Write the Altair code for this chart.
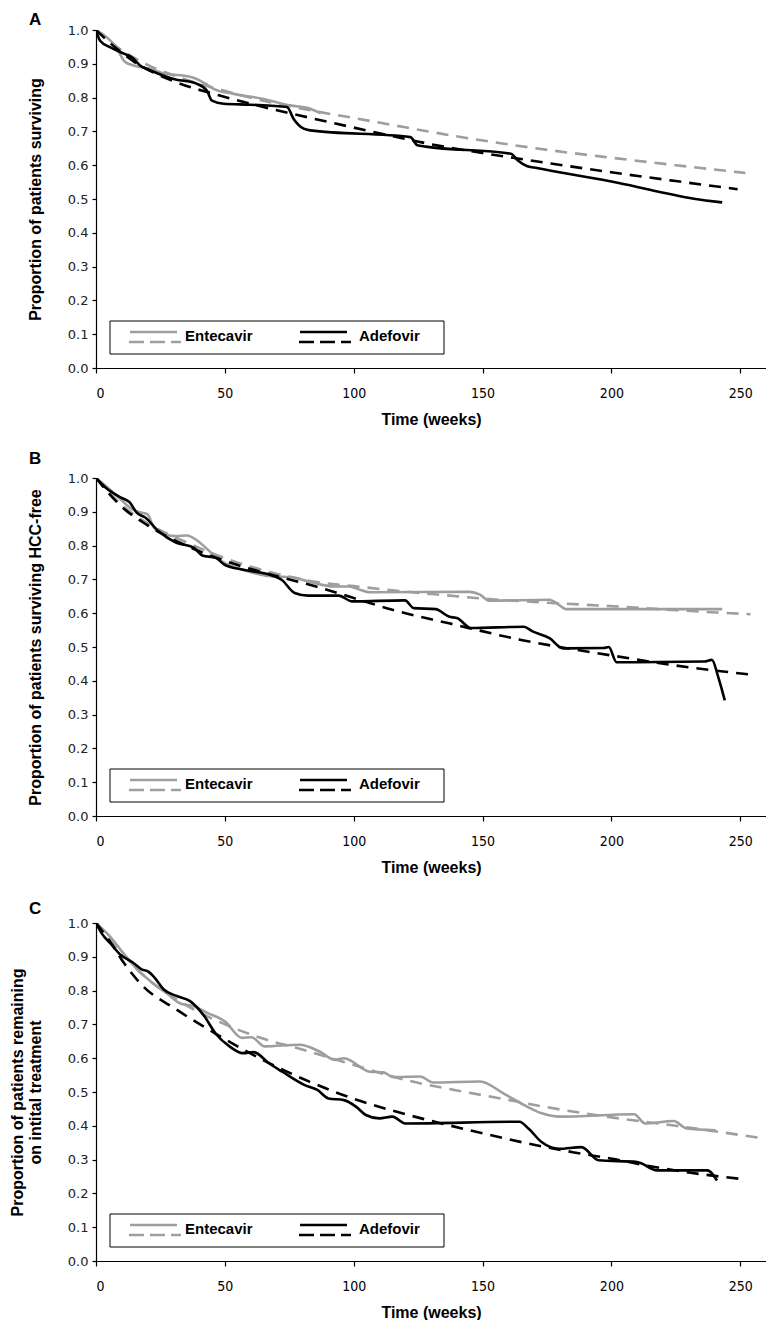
import altair as alt
import pandas as pd

# ---------------- data ----------------
X_TICKS = [0, 50, 100, 150, 200, 250]
Y_TICKS = [0.0, 0.1, 0.2, 0.3, 0.4, 0.5, 0.6, 0.7, 0.8, 0.9, 1.0]
LEGEND_LABELS = ["Entecavir", "Adefovir"]
PANEL_LETTERS = ["A", "B", "C"]
Y_TITLES = [
    "Proportion of patients surviving",
    "Proportion of patients surviving HCC-free",
    ["Proportion of patients remaining", "on intital treatment"],
]
X_TITLE = "Time (weeks)"

# Panel A
A_ent_km_t = [0, 3, 5.4, 7.4, 11.3, 14.5, 21, 26.2, 36.5, 39.1, 42.4, 45.6, 53.4, 65, 75.4, 81.9, 87.1]
A_ent_km_v = [1.0, 0.985, 0.970, 0.954, 0.905, 0.895, 0.885, 0.872, 0.862, 0.855, 0.841, 0.826, 0.811, 0.796, 0.777, 0.770, 0.754]
A_ent_fit_t = [0, 10, 20, 30, 47, 62, 87, 99, 120, 138, 157, 176.5, 200, 225, 252]
A_ent_fit_v = [1.0, 0.94, 0.897, 0.866, 0.826, 0.796, 0.757, 0.741, 0.712, 0.688, 0.665, 0.644, 0.622, 0.600, 0.577]
A_ade_km_t = [0, 1.6, 5.4, 10.6, 13.9, 17.1, 21, 30.1, 39.1, 43, 45, 49.5, 60, 74.1, 76.7, 80.6, 83.2, 122, 124.7, 128, 161, 163.6, 167.4, 170, 202.4, 232, 243]
A_ade_km_v = [1.0, 0.968, 0.949, 0.931, 0.919, 0.895, 0.881, 0.855, 0.841, 0.821, 0.791, 0.782, 0.779, 0.772, 0.737, 0.708, 0.703, 0.683, 0.659, 0.655, 0.634, 0.615, 0.597, 0.593, 0.548, 0.501, 0.490]
A_ade_fit_t = [0, 8, 15, 31, 48, 65, 82, 99, 114, 130, 150, 176.5, 200, 225, 249]
A_ade_fit_v = [1.0, 0.945, 0.905, 0.846, 0.806, 0.772, 0.742, 0.713, 0.688, 0.662, 0.636, 0.605, 0.579, 0.553, 0.529]

# Panel B
B_ent_km_t = [0, 3.7, 8.8, 14, 17.4, 19.9, 22.5, 26.8, 31, 35.3, 39.6, 44.7, 49.8, 56.7, 68.6, 75.5, 82.3, 92.5, 98, 103, 106, 145, 149, 152.6, 176, 179, 182.5, 243]
B_ent_km_v = [1.0, 0.977, 0.942, 0.908, 0.898, 0.893, 0.853, 0.833, 0.828, 0.830, 0.813, 0.779, 0.749, 0.729, 0.709, 0.707, 0.694, 0.679, 0.679, 0.668, 0.662, 0.663, 0.655, 0.637, 0.640, 0.628, 0.612, 0.612]
B_ent_fit_t = [0, 10, 20, 35, 50, 70, 85, 100, 111, 130, 156, 180, 202, 225, 241, 254]
B_ent_fit_v = [1.0, 0.92, 0.866, 0.81, 0.763, 0.717, 0.693, 0.680, 0.671, 0.657, 0.640, 0.629, 0.620, 0.609, 0.602, 0.597]
B_ade_km_t = [0, 3.7, 9.7, 13.1, 15.7, 19.1, 24.2, 31, 37.9, 41.3, 46.4, 49.8, 56.7, 68.6, 72, 77.1, 82.3, 94.2, 99.4, 119.9, 123.3, 131.8, 136.9, 140.3, 145.5, 166, 169.4, 176, 181.2, 197, 199, 202, 236, 239, 241.5, 244]
B_ade_km_v = [1.0, 0.972, 0.942, 0.928, 0.898, 0.883, 0.843, 0.809, 0.794, 0.771, 0.764, 0.744, 0.729, 0.711, 0.699, 0.660, 0.652, 0.652, 0.635, 0.638, 0.615, 0.612, 0.590, 0.585, 0.556, 0.560, 0.546, 0.526, 0.496, 0.497, 0.500, 0.455, 0.457, 0.462, 0.41, 0.342]
B_ade_fit_t = [0, 10, 20, 35, 50, 70, 85, 100, 115, 137, 165, 200, 230, 256]
B_ade_fit_v = [1.0, 0.915, 0.86, 0.80, 0.755, 0.71, 0.68, 0.645, 0.61, 0.57, 0.521, 0.475, 0.44, 0.417]

# Panel C
C_ent_km_t = [0, 5.8, 10.9, 16, 21.1, 27.9, 33, 38, 43.2, 50, 56.7, 60.3, 65.5, 79.1, 86.2, 92.9, 96.2, 106.3, 111.5, 115.4, 125.7, 130.9, 149, 158.1, 166.2, 173, 180, 208.8, 213.1, 224.2, 229.2, 240.4]
C_ent_km_v = [1.0, 0.957, 0.908, 0.863, 0.828, 0.789, 0.761, 0.754, 0.734, 0.709, 0.660, 0.662, 0.635, 0.640, 0.622, 0.595, 0.600, 0.560, 0.558, 0.544, 0.546, 0.528, 0.531, 0.496, 0.461, 0.437, 0.427, 0.434, 0.407, 0.414, 0.392, 0.387]
C_ent_fit_t = [0, 8, 17, 30, 39, 52, 66, 78, 97, 110, 120, 139, 157, 175, 200, 225, 257]
C_ent_fit_v = [1.0, 0.93, 0.855, 0.78, 0.74, 0.694, 0.655, 0.63, 0.587, 0.557, 0.536, 0.506, 0.481, 0.455, 0.425, 0.40, 0.365]
C_ade_km_t = [0, 2.4, 5.8, 9.2, 14.3, 17.7, 20.3, 22.8, 26.2, 31.3, 36.5, 41.6, 46.7, 51.8, 56.9, 61.2, 67.1, 72.3, 80.8, 85.9, 90.2, 96.2, 101, 104.7, 109.9, 115, 120, 164.4, 167.8, 172.9, 179.7, 188.4, 195, 210, 217.7, 237.2, 241]
C_ade_km_v = [1.0, 0.967, 0.938, 0.908, 0.883, 0.863, 0.856, 0.838, 0.804, 0.784, 0.769, 0.729, 0.670, 0.635, 0.615, 0.618, 0.585, 0.560, 0.521, 0.506, 0.481, 0.476, 0.456, 0.432, 0.422, 0.427, 0.407, 0.412, 0.392, 0.352, 0.332, 0.337, 0.298, 0.293, 0.268, 0.268, 0.238]
C_ade_fit_t = [0, 5, 11, 18, 31, 47, 66, 83, 100, 115, 134, 150, 168, 185, 202, 214, 230, 250]
C_ade_fit_v = [1.0, 0.95, 0.88, 0.815, 0.745, 0.67, 0.59, 0.53, 0.48, 0.445, 0.407, 0.378, 0.347, 0.322, 0.30, 0.282, 0.262, 0.243]

PANELS = [
    (A_ent_km_t, A_ent_km_v, A_ent_fit_t, A_ent_fit_v, A_ade_km_t, A_ade_km_v, A_ade_fit_t, A_ade_fit_v),
    (B_ent_km_t, B_ent_km_v, B_ent_fit_t, B_ent_fit_v, B_ade_km_t, B_ade_km_v, B_ade_fit_t, B_ade_fit_v),
    (C_ent_km_t, C_ent_km_v, C_ent_fit_t, C_ent_fit_v, C_ade_km_t, C_ade_km_v, C_ade_fit_t, C_ade_fit_v),
]

# ---------------- style ----------------
GRAY = "#9e9e9e"
BLACK = "#000000"
W, H = 670, 338
LINE_W = 2.6
DASH = [12, 8]
SANS = "Liberation Sans, Arial, sans-serif"
NARROW = "Liberation Sans Narrow, Arial Narrow, DejaVu Sans Condensed, sans-serif"
TITLE_OFFSETS = [-5, 4, -1]


def encodings(i):
    x = alt.X(
        "t:Q",
        scale=alt.Scale(domain=[0, 260], nice=False, zero=True),
        axis=alt.Axis(
            values=X_TICKS, title=X_TITLE, grid=False, tickSize=5, labelPadding=13,
            labelFont=NARROW, labelFontSize=14, titleFont=SANS, titleFontSize=16,
            titleFontWeight="bold", titlePadding=11, domainColor=BLACK, tickColor=BLACK,
            labelColor=BLACK, titleColor=BLACK, domainWidth=1.2, tickWidth=1.2,
            labelOverlap=False,
        ),
    )
    y = alt.Y(
        "v:Q",
        scale=alt.Scale(domain=[0, 1], nice=False),
        axis=alt.Axis(
            values=Y_TICKS, format=".1f", title=Y_TITLES[i], grid=False, tickSize=4,
            labelPadding=4, labelFont="DejaVu Sans", labelFontSize=13, titleFont=SANS,
            titleFontSize=16, titleFontWeight="bold", titlePadding=24, titleLineHeight=18,
            domainColor=BLACK, tickColor=BLACK, labelColor="#222222", titleColor=BLACK,
            domainWidth=1.2, tickWidth=1.2, labelOverlap=False, labelFlush=False,
        ),
    )
    return x, y


def line_layer(t, v, color, dashed, x, y):
    kw = dict(color=color, strokeWidth=LINE_W, interpolate="monotone", clip=True)
    if dashed:
        kw["strokeDash"] = DASH
    return alt.Chart(pd.DataFrame({"t": t, "v": v})).mark_line(**kw).encode(x=x, y=y)


def one_row():
    return pd.DataFrame({"k": [0]})


def legend_layers():
    box = alt.Chart(one_row()).mark_rect(fill="white", stroke=BLACK, strokeWidth=1).encode(
        x=alt.value(14), x2=alt.value(348), y=alt.value(H - 47), y2=alt.value(H - 14)
    )
    layers = [box]
    entries = [(LEGEND_LABELS[0], GRAY, 34, 89), (LEGEND_LABELS[1], BLACK, 204, 263)]
    for label, color, x0, xt in entries:
        layers.append(
            alt.Chart(one_row()).mark_rule(color=color, strokeWidth=LINE_W).encode(
                x=alt.value(x0), x2=alt.value(x0 + 47), y=alt.value(H - 36)
            )
        )
        layers.append(
            alt.Chart(one_row()).mark_rule(color=color, strokeWidth=LINE_W, strokeDash=[15, 6]).encode(
                x=alt.value(x0 - 1), x2=alt.value(x0 + 51), y=alt.value(H - 26)
            )
        )
        layers.append(
            alt.Chart(pd.DataFrame({"label": [label]})).mark_text(
                align="left", baseline="middle", font=SANS, fontSize=15, fontWeight="bold", color=BLACK
            ).encode(text="label:N", x=alt.value(xt), y=alt.value(H - 32))
        )
    return layers


def panel(i):
    ek_t, ek_v, ef_t, ef_v, ak_t, ak_v, af_t, af_v = PANELS[i]
    x, y = encodings(i)
    layers = [
        line_layer(ek_t, ek_v, GRAY, False, x, y),
        line_layer(ef_t, ef_v, GRAY, True, x, y),
        line_layer(ak_t, ak_v, BLACK, False, x, y),
        line_layer(af_t, af_v, BLACK, True, x, y),
    ] + legend_layers()
    return alt.layer(*layers).properties(
        width=W,
        height=H,
        title=alt.TitleParams(
            PANEL_LETTERS[i], anchor="start", frame="group", dx=-67, fontSize=17,
            fontWeight="bold", font=SANS, color=BLACK, offset=TITLE_OFFSETS[i],
        ),
    )


top_two = alt.vconcat(panel(0), panel(1), spacing=23)
chart = alt.vconcat(top_two, panel(2), spacing=25).properties(
    padding={"left": 1, "top": 3, "right": 0, "bottom": 0}
).configure_view(stroke=None).configure_axis(labelOverlap=False)

chart.save("out.html", embed_options={"renderer": "svg", "actions": False})
